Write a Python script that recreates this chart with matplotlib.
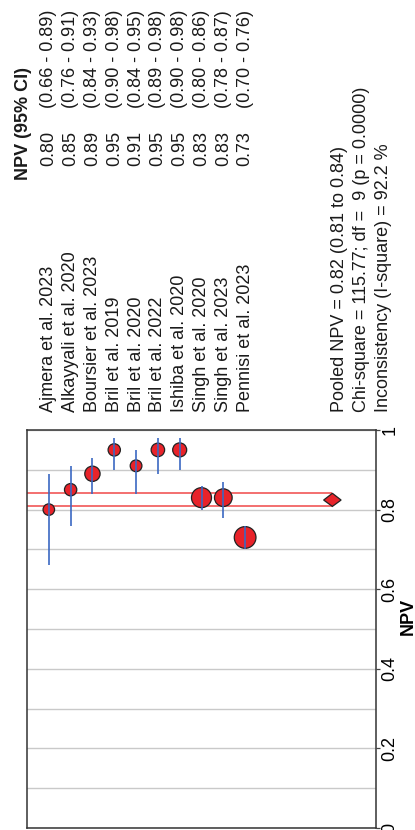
import numpy as np
import matplotlib
matplotlib.use('Agg')
import matplotlib.pyplot as plt
from matplotlib.patches import Polygon
from matplotlib.transforms import blended_transform_factory

plt.rcParams['font.family'] = ['Liberation Sans', 'DejaVu Sans']

# data
studies = ['Ajmera et al. 2023', 'Alkayyali et al. 2020', 'Boursier et al. 2023',
           'Bril et al. 2019', 'Bril et al. 2020', 'Bril et al. 2022',
           'Ishiba et al. 2020', 'Singh et al. 2020', 'Singh et al. 2023',
           'Pennisi et al. 2023']
npv = [0.80, 0.85, 0.89, 0.95, 0.91, 0.95, 0.95, 0.83, 0.83, 0.73]
ci_lo = [0.66, 0.76, 0.84, 0.90, 0.84, 0.89, 0.90, 0.80, 0.78, 0.70]
ci_hi = [0.89, 0.91, 0.93, 0.98, 0.95, 0.98, 0.98, 0.86, 0.87, 0.76]
weights = [5.6, 6.4, 9.9, 6.4, 5.8, 7.7, 8.3, 16.9, 13.2, 19.9]  # relative study weight (%)

pooled, pooled_lo, pooled_hi = 0.824, 0.808, 0.841
chi_sq, df, p_val, i_sq = 115.77, 9, 0.0000, 92.2

tick_vals = [0, 0.2, 0.4, 0.6, 0.8, 1]
tick_labels = ['0', '0.2', '0.4', '0.6', '0.8', '1']

W, H = 415, 830
fs = 13
RED = '#e8232a'
BLUE = '#3b68c2'


def fx(px):
    return px / W


def fy(py):
    return 1 - py / H


fig = plt.figure(figsize=(W / 100, H / 100), dpi=100)
ax = fig.add_axes([fx(27), fy(828), (376 - 27) / W, (828 - 430) / H])

n = len(studies)
pos = np.arange(1, n + 1)
pp = n + 4  # pooled diamond position

ax.set_xlim(0, n + 6)
ax.set_ylim(0, 1)

# grid every 0.1, labelled ticks every 0.2
ax.set_yticks(np.arange(0.1, 1.0, 0.1), minor=True)
ax.set_yticks(tick_vals)
ax.set_yticklabels(tick_labels)
ax.grid(axis='y', which='both', color='#c9c9c9', lw=1.0, zorder=0)
ax.set_axisbelow(True)
ax.set_xticks([])
ax.yaxis.tick_right()
ax.tick_params(axis='y', which='major', length=3, width=0.9, color='#444444',
               labelsize=fs, labelrotation=90, pad=1)
ax.tick_params(axis='y', which='minor', length=0)
for lab in ax.get_yticklabels():
    lab.set_va('center')
    lab.set_ha('left')
for sp in ax.spines.values():
    sp.set_color('#333333')
    sp.set_linewidth(1.1)

# pooled estimate band + diamond
ax.hlines([pooled_lo, pooled_hi], 0, pp, color='#f04848', lw=1.1, zorder=2)
hw = 0.4
ax.add_patch(Polygon([[pp - hw, pooled], [pp, pooled_hi], [pp + hw, pooled], [pp, pooled_lo]],
                     closed=True, fc=RED, ec='#222222', lw=0.9, zorder=5))

# study estimates
diam_px = 21.7 * np.sqrt(np.array(weights) / max(weights))
ax.scatter(pos, npv, s=(diam_px * 0.72) ** 2, c=RED, edgecolors='#222222',
           linewidths=0.9, zorder=3)
ax.vlines(pos, ci_lo, ci_hi, color=BLUE, lw=1.2, zorder=4)

fig.text(fx(408), fy(616), 'NPV', rotation=90, ha='center', va='center',
         fontsize=fs, fontweight='bold')

# text columns
trans = blended_transform_factory(ax.transData, fig.transFigure)
kw = dict(rotation=90, rotation_mode='anchor', ha='left', va='center',
          fontsize=fs, color='#1a1a1a', clip_on=False)
for i in range(n):
    ax.text(pos[i], fy(412), studies[i], transform=trans, **kw)
    ax.text(pos[i], fy(166), f'{npv[i]:.2f}', transform=trans, **kw)
    ax.text(pos[i], fy(108), f'({ci_lo[i]:.2f} - {ci_hi[i]:.2f})', transform=trans, **kw)

fig.text(fx(23), fy(180), 'NPV (95% CI)', fontweight='bold', **kw)

stats = [f'Pooled NPV = {pooled:.2f} ({pooled_lo:.2f} to {pooled_hi:.2f})',
         f'Chi-square = {chi_sq:.2f}; df =  {df} (p = {p_val:.4f})',
         f'Inconsistency (I-square) = {i_sq:.1f} %']
for j, line in enumerate(stats):
    fig.text(fx(339 + 22 * j), fy(412), line, **kw)

fig.savefig('out.png', dpi=100)
